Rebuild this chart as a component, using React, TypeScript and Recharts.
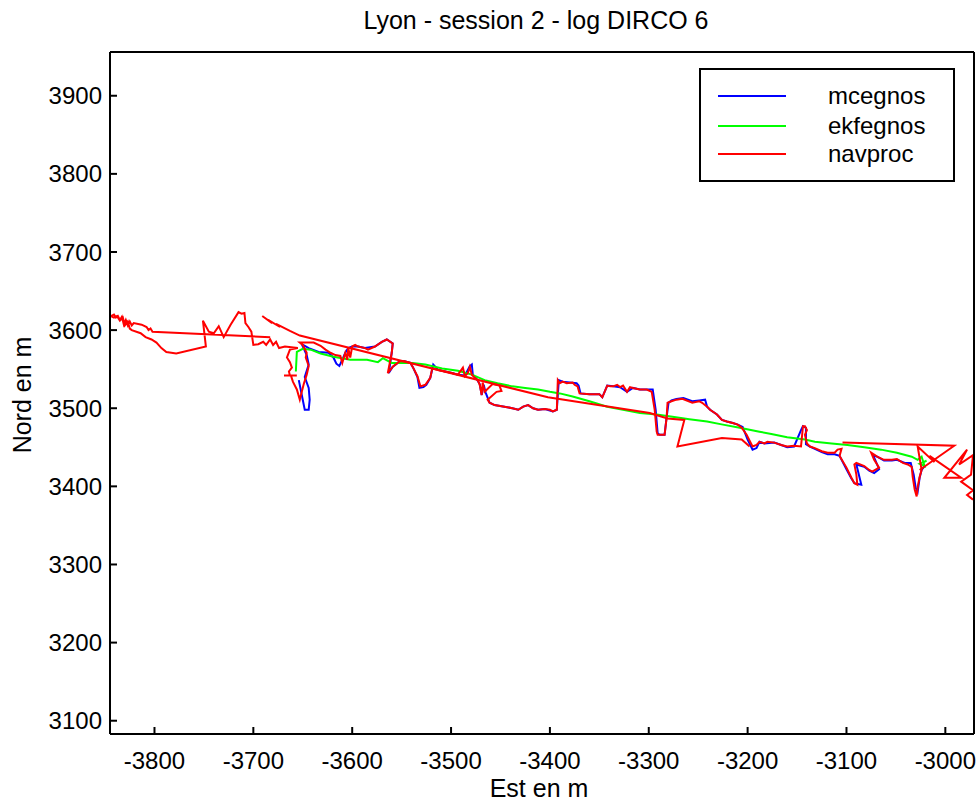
import React from 'react';
import { LineChart, Line, XAxis, YAxis, Legend } from 'recharts';

const FONT = '"Liberation Sans", Arial, Helvetica, sans-serif';

const title = 'Lyon - session 2 - log DIRCO 6';
const xLabel = 'Est en m';
const yLabel = 'Nord en m';
const xTicks = [-3800, -3700, -3600, -3500, -3400, -3300, -3200, -3100, -3000];
const yTicks = [3100, 3200, 3300, 3400, 3500, 3600, 3700, 3800, 3900];
const xDomain: [number, number] = [-3845, -2971];
const yDomain: [number, number] = [3083, 3956];

const mcegnosXY: [number, number][] = [
  [-3654, 3536], [-3651, 3517], [-3648, 3498], [-3644, 3498], [-3643, 3511], [-3644, 3526], [-3648, 3540],
  [-3644, 3556], [-3646, 3568], [-3651, 3582], [-3644, 3577], [-3634, 3572], [-3624, 3571], [-3619, 3565],
  [-3616, 3557], [-3613, 3554], [-3609, 3565], [-3607, 3571], [-3604, 3577], [-3600, 3579], [-3594, 3579],
  [-3587, 3577], [-3577, 3579], [-3570, 3585], [-3565, 3588], [-3559, 3583], [-3560, 3571], [-3563, 3545],
  [-3559, 3553], [-3552, 3560], [-3547, 3560], [-3541, 3558], [-3538, 3551], [-3534, 3540], [-3532, 3526],
  [-3528, 3527], [-3525, 3530], [-3521, 3539], [-3518, 3556], [-3513, 3549], [-3506, 3547], [-3499, 3545],
  [-3493, 3543], [-3486, 3542], [-3481, 3554], [-3479, 3556], [-3478, 3543], [-3475, 3539], [-3471, 3531],
  [-3469, 3517], [-3467, 3530], [-3465, 3520], [-3461, 3507], [-3456, 3504], [-3446, 3502], [-3438, 3500],
  [-3432, 3498], [-3427, 3502], [-3422, 3504], [-3417, 3500], [-3412, 3498], [-3405, 3499], [-3397, 3496],
  [-3393, 3498], [-3391, 3536], [-3387, 3534], [-3380, 3533], [-3373, 3532], [-3371, 3529], [-3369, 3519],
  [-3360, 3518], [-3350, 3518], [-3347, 3514], [-3342, 3529], [-3336, 3528], [-3329, 3527], [-3322, 3521],
  [-3316, 3526], [-3309, 3524], [-3296, 3524], [-3293, 3498], [-3291, 3468], [-3289, 3466], [-3284, 3466],
  [-3282, 3488], [-3280, 3507], [-3277, 3510], [-3272, 3512], [-3265, 3513], [-3256, 3509], [-3249, 3510],
  [-3243, 3511], [-3241, 3502], [-3238, 3498], [-3231, 3492], [-3226, 3485], [-3221, 3483], [-3215, 3481],
  [-3210, 3479], [-3205, 3476], [-3200, 3460], [-3195, 3447], [-3191, 3449], [-3188, 3457], [-3183, 3455],
  [-3173, 3456], [-3166, 3453], [-3160, 3450], [-3153, 3451], [-3146, 3472], [-3144, 3477], [-3141, 3475],
  [-3141, 3454], [-3137, 3451], [-3132, 3448], [-3125, 3444], [-3119, 3441], [-3112, 3441], [-3107, 3439],
  [-3100, 3422], [-3095, 3410], [-3092, 3404], [-3085, 3402], [-3090, 3428], [-3082, 3425], [-3077, 3420],
  [-3072, 3417], [-3067, 3422], [-3073, 3440], [-3069, 3438], [-3062, 3433], [-3054, 3433], [-3049, 3434],
  [-3041, 3430], [-3035, 3430], [-3032, 3415], [-3030, 3398], [-3028, 3393], [-3026, 3411], [-3024, 3421],
  [-3021, 3426],
];

const ekfegnosXY: [number, number][] = [
  [-3657, 3547], [-3656, 3572], [-3650, 3576], [-3642, 3575], [-3632, 3570], [-3619, 3566], [-3602, 3562],
  [-3585, 3562], [-3574, 3559], [-3569, 3564], [-3560, 3558], [-3539, 3558], [-3526, 3556], [-3509, 3551],
  [-3493, 3548], [-3479, 3543], [-3466, 3536], [-3453, 3532], [-3438, 3528], [-3425, 3526], [-3412, 3524],
  [-3400, 3521], [-3390, 3519], [-3377, 3515], [-3360, 3509], [-3342, 3502], [-3326, 3498], [-3309, 3494],
  [-3292, 3492], [-3276, 3489], [-3259, 3486], [-3241, 3483], [-3225, 3479], [-3208, 3475], [-3188, 3470],
  [-3176, 3467], [-3160, 3463], [-3142, 3460], [-3132, 3457], [-3115, 3455], [-3099, 3453], [-3082, 3450],
  [-3065, 3447], [-3049, 3443], [-3034, 3438], [-3028, 3434], [-3024, 3438], [-3021, 3426], [-3026, 3429],
  [-3019, 3433], [-3023, 3430],
];

const navprocXY: [number, number][] = [
  [-3683, 3591], [-3802, 3598], [-3804, 3602], [-3806, 3600], [-3808, 3604], [-3813, 3607], [-3821, 3609],
  [-3823, 3606], [-3825, 3611], [-3827, 3606], [-3829, 3613], [-3831, 3607], [-3833, 3617], [-3835, 3613],
  [-3837, 3618], [-3839, 3616], [-3841, 3620], [-3844, 3618], [-3841, 3616], [-3838, 3618], [-3835, 3612],
  [-3832, 3616], [-3830, 3606], [-3827, 3611], [-3825, 3602], [-3823, 3600], [-3814, 3596], [-3809, 3591],
  [-3803, 3588], [-3798, 3584], [-3793, 3577], [-3788, 3572], [-3783, 3571], [-3778, 3570], [-3748, 3579],
  [-3751, 3612], [-3745, 3598], [-3740, 3596], [-3735, 3605], [-3730, 3591], [-3723, 3607], [-3715, 3623],
  [-3712, 3621], [-3709, 3622], [-3708, 3609], [-3705, 3604], [-3702, 3598], [-3700, 3581], [-3695, 3582],
  [-3690, 3585], [-3687, 3581], [-3683, 3588], [-3680, 3581], [-3677, 3585], [-3674, 3577], [-3668, 3579],
  [-3655, 3577], [-3663, 3575], [-3666, 3565], [-3663, 3559], [-3661, 3552], [-3664, 3547], [-3663, 3542],
  [-3669, 3542], [-3656, 3542], [-3662, 3542], [-3660, 3534], [-3656, 3524], [-3653, 3511], [-3651, 3521],
  [-3649, 3531], [-3646, 3543], [-3644, 3554], [-3647, 3565], [-3646, 3571], [-3650, 3581], [-3653, 3584],
  [-3639, 3584], [-3632, 3580], [-3627, 3575], [-3622, 3571], [-3617, 3568], [-3612, 3567], [-3610, 3558],
  [-3607, 3571], [-3605, 3562], [-3604, 3577], [-3602, 3565], [-3600, 3579], [-3597, 3581], [-3594, 3579],
  [-3587, 3577], [-3584, 3575], [-3577, 3579], [-3570, 3585], [-3565, 3588], [-3559, 3583], [-3560, 3571],
  [-3564, 3545], [-3559, 3553], [-3552, 3560], [-3547, 3560], [-3541, 3558], [-3538, 3551], [-3534, 3541],
  [-3531, 3528], [-3526, 3530], [-3521, 3539], [-3519, 3551], [-3513, 3549], [-3506, 3547], [-3499, 3545],
  [-3493, 3543], [-3488, 3552], [-3486, 3541], [-3483, 3545], [-3481, 3553], [-3479, 3543], [-3476, 3539],
  [-3473, 3536], [-3471, 3530], [-3469, 3517], [-3468, 3533], [-3466, 3521], [-3458, 3531], [-3451, 3529],
  [-3449, 3522], [-3454, 3521], [-3463, 3511], [-3461, 3507], [-3456, 3504], [-3446, 3502], [-3438, 3500],
  [-3432, 3498], [-3427, 3502], [-3422, 3504], [-3417, 3500], [-3412, 3498], [-3405, 3499], [-3400, 3498],
  [-3397, 3496], [-3393, 3498], [-3392, 3536], [-3390, 3532], [-3387, 3534], [-3383, 3532], [-3377, 3533],
  [-3375, 3530], [-3372, 3528], [-3370, 3519], [-3360, 3518], [-3350, 3518], [-3347, 3514], [-3342, 3529],
  [-3339, 3528], [-3336, 3528], [-3332, 3530], [-3329, 3527], [-3326, 3529], [-3322, 3521], [-3319, 3527],
  [-3316, 3526], [-3309, 3524], [-3302, 3524], [-3297, 3521], [-3294, 3498], [-3292, 3470], [-3291, 3466],
  [-3284, 3466], [-3282, 3487], [-3281, 3507], [-3277, 3509], [-3272, 3511], [-3266, 3512], [-3256, 3507],
  [-3249, 3509], [-3246, 3507], [-3241, 3502], [-3238, 3498], [-3231, 3492], [-3226, 3485], [-3221, 3483],
  [-3215, 3481], [-3210, 3479], [-3206, 3475], [-3201, 3466], [-3195, 3451], [-3191, 3453], [-3188, 3457],
  [-3183, 3455], [-3180, 3457], [-3173, 3456], [-3166, 3453], [-3160, 3451], [-3153, 3452], [-3146, 3451],
  [-3144, 3477], [-3142, 3477], [-3140, 3472], [-3142, 3466], [-3140, 3455], [-3137, 3451], [-3132, 3449],
  [-3125, 3445], [-3119, 3443], [-3112, 3443], [-3109, 3447], [-3105, 3448], [-3107, 3439], [-3100, 3424],
  [-3095, 3411], [-3092, 3404], [-3089, 3402], [-3090, 3415], [-3092, 3428], [-3090, 3430], [-3082, 3426],
  [-3077, 3421], [-3074, 3419], [-3067, 3424], [-3072, 3434], [-3074, 3440], [-3075, 3443], [-3069, 3438],
  [-3062, 3434], [-3054, 3434], [-3049, 3435], [-3043, 3430], [-3038, 3428], [-3034, 3425], [-3033, 3412],
  [-3031, 3396], [-3029, 3387], [-3028, 3399], [-3026, 3412], [-3024, 3421], [-3028, 3451], [-3011, 3431],
  [-3016, 3439], [-2984, 3411], [-3001, 3411], [-2978, 3447], [-2986, 3428], [-2972, 3440], [-2974, 3415],
  [-2984, 3406], [-2972, 3395], [-2978, 3389], [-2972, 3383],
];

const navprocJumpAXY: [number, number][] = [
  [-3691, 3618], [-3681, 3609], [-3685, 3613], [-3673, 3604], [-3677, 3608], [-3663, 3599], [-3653, 3593],
  [-3402, 3514], [-3299, 3494], [-3281, 3487], [-3264, 3485], [-3271, 3451], [-3226, 3462], [-3206, 3460],
  [-3198, 3451],
];

const navprocJumpBXY: [number, number][] = [
  [-3104, 3456], [-2991, 3452], [-3026, 3421],
];

const series = [
  { name: 'mcegnos', color: '#0000ff' },
  { name: 'ekfegnos', color: '#00ff00' },
  { name: 'navproc', color: '#ff0000' },
];

const toPts = (a: [number, number][]) => a.map(([x, y]) => ({ x, y }));

const AX = { stroke: '#000', strokeWidth: 2 };
const TL = { stroke: '#000', strokeWidth: 2 };

const TitleLab = () => (
  <text x={536} y={29} textAnchor="middle" fontSize={25} fontFamily={FONT} fill="#000">{title}</text>
);
const XLab = () => (
  <text x={539} y={797} textAnchor="middle" fontSize={25} fontFamily={FONT} fill="#000">{xLabel}</text>
);
const YLab = () => (
  <text x={31} y={395} transform="rotate(-90 31 395)" textAnchor="middle" fontSize={25} fontFamily={FONT} fill="#000">{yLabel}</text>
);

const rowCenters = [26, 56, 84];

const renderLegend = () => (
  <div style={{ position: 'relative', width: 256, height: 114, boxSizing: 'border-box', border: '2px solid #000', background: '#fff', fontFamily: FONT }}>
    {series.map((s, i) => (
      <React.Fragment key={s.name}>
        <div style={{ position: 'absolute', left: 17, width: 68, top: rowCenters[i] - 1, height: 2, background: s.color }} />
        <div style={{ position: 'absolute', left: 127, top: rowCenters[i] - 15, height: 30, lineHeight: '30px', fontSize: 24, color: '#000', whiteSpace: 'nowrap' }}>{s.name}</div>
      </React.Fragment>
    ))}
  </div>
);

export default function App() {
  const tickStyle = { fill: '#000', fontSize: 24, fontFamily: FONT };
  return (
    <div style={{ position: 'absolute', left: 0, top: 0, width: 976, height: 804, background: '#fff' }}>
      <LineChart width={976} height={804} margin={{ top: 0, right: 0, bottom: 0, left: 0 }}>
        <XAxis xAxisId="b" type="number" dataKey="x" domain={xDomain} ticks={xTicks} allowDataOverflow interval={0}
          height={70} orientation="bottom" tickSize={-7} tickMargin={25} axisLine={AX} tickLine={TL} tick={tickStyle} label={XLab} />
        <XAxis xAxisId="t" type="number" dataKey="x" domain={xDomain} ticks={xTicks} allowDataOverflow interval={0}
          height={52} orientation="top" tickSize={-7} axisLine={AX} tickLine={TL} tick={false} label={TitleLab} />
        <YAxis yAxisId="l" type="number" domain={yDomain} ticks={yTicks} allowDataOverflow interval={0}
          width={110} orientation="left" tickSize={-7} tickMargin={15} axisLine={AX} tickLine={TL} tick={tickStyle} label={YLab} />
        <YAxis yAxisId="r" type="number" domain={yDomain} ticks={yTicks} allowDataOverflow interval={0}
          width={2} orientation="right" tickSize={-7} axisLine={AX} tickLine={TL} tick={false} />
        <Line xAxisId="b" yAxisId="l" name="mcegnos" data={toPts(mcegnosXY)} dataKey="y" stroke="#0000ff" strokeWidth={2}
          dot={false} activeDot={false} isAnimationActive={false} />
        <Line xAxisId="b" yAxisId="l" name="ekfegnos" data={toPts(ekfegnosXY)} dataKey="y" stroke="#00ff00" strokeWidth={2}
          dot={false} activeDot={false} isAnimationActive={false} />
        <Line xAxisId="b" yAxisId="l" name="navproc" data={toPts(navprocXY)} dataKey="y" stroke="#ff0000" strokeWidth={2}
          dot={false} activeDot={false} isAnimationActive={false} />
        <Line xAxisId="b" yAxisId="l" name="navproc" legendType="none" data={toPts(navprocJumpAXY)} dataKey="y" stroke="#ff0000" strokeWidth={2}
          dot={false} activeDot={false} isAnimationActive={false} />
        <Line xAxisId="b" yAxisId="l" name="navproc" legendType="none" data={toPts(navprocJumpBXY)} dataKey="y" stroke="#ff0000" strokeWidth={2}
          dot={false} activeDot={false} isAnimationActive={false} />
        <Legend layout="horizontal" verticalAlign="middle" align="center"
          wrapperStyle={{ left: 699, top: 68, width: 256, height: 114 }} content={renderLegend} />
      </LineChart>
    </div>
  );
}
